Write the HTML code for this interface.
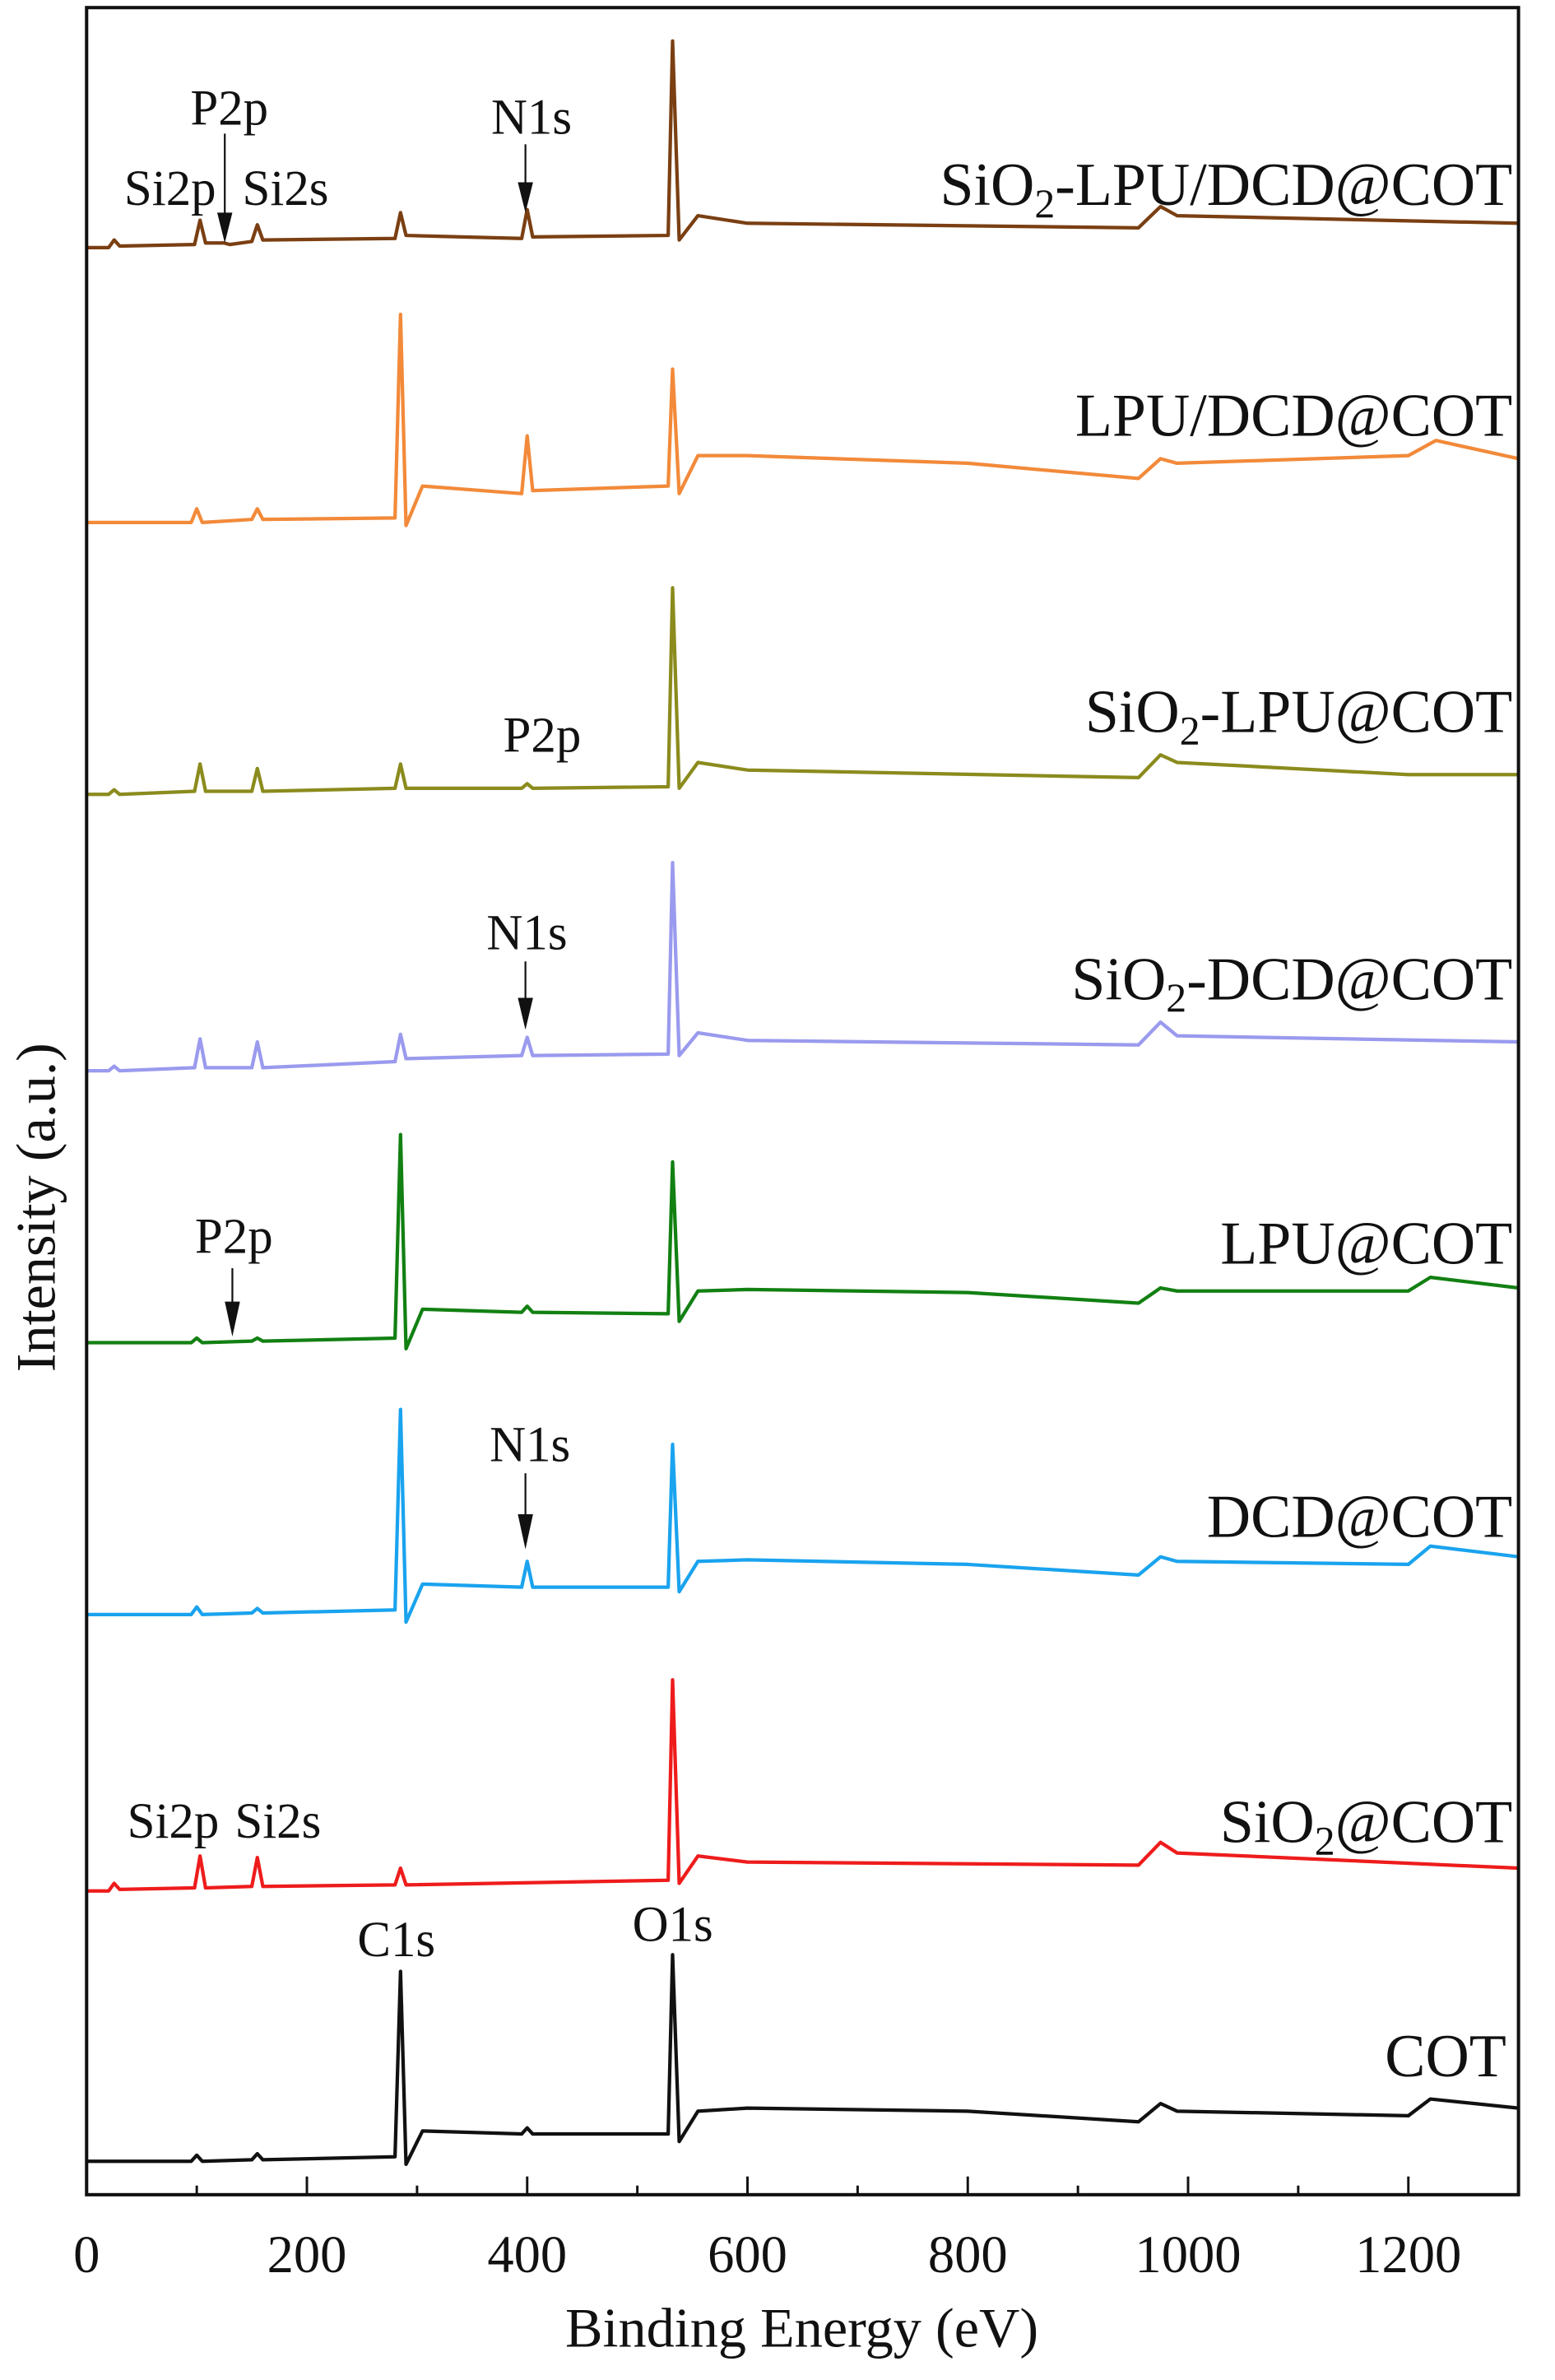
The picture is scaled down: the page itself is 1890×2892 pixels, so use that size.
<!DOCTYPE html>
<html><head><meta charset="utf-8"><style>
html,body{margin:0;padding:0;background:#fff}
svg{display:block}
text{font-family:"Liberation Serif",serif;fill:#111}
</style></head><body>
<svg id="chart" width="1890" height="2892" viewBox="0 0 1024 1567" xmlns="http://www.w3.org/2000/svg">
<rect x="0" y="0" width="1024" height="1567" fill="#fff"/>
<g id="series"></g>
<rect x="57" y="5" width="943" height="1440" fill="none" stroke="#111" stroke-width="2.2"/>
<g id="ticks"></g>
<g id="ticklabels" font-size="35" text-anchor="middle"></g>
<text x="528" y="1545" font-size="37" text-anchor="middle">Binding Energy (eV)</text>
<text transform="translate(36,795) rotate(-90)" font-size="37" text-anchor="middle">Intensity (a.u.)</text>

<g font-size="40" text-anchor="end">
<text x="996" y="135">SiO<tspan font-size="27" dy="8">2</tspan><tspan dy="-8">-LPU/DCD@COT</tspan></text>
<text x="996" y="287">LPU/DCD@COT</text>
<text x="996" y="482">SiO<tspan font-size="27" dy="8">2</tspan><tspan dy="-8">-LPU@COT</tspan></text>
<text x="996" y="658">SiO<tspan font-size="27" dy="8">2</tspan><tspan dy="-8">-DCD@COT</tspan></text>
<text x="996" y="832">LPU@COT</text>
<text x="996" y="1012">DCD@COT</text>
<text x="996" y="1213">SiO<tspan font-size="27" dy="8">2</tspan><tspan dy="-8">@COT</tspan></text>
<text x="992" y="1367">COT</text>
</g>

<g font-size="33" text-anchor="middle">
<text x="112" y="135">Si2p</text>
<text x="151" y="82">P2p</text>
<text x="188" y="135">Si2s</text>
<text x="350" y="88">N1s</text>
<text x="357" y="495">P2p</text>
<text x="347" y="625">N1s</text>
<text x="154" y="825">P2p</text>
<text x="349" y="962">N1s</text>
<text x="114" y="1210">Si2p</text>
<text x="183" y="1210">Si2s</text>
<text x="261" y="1288">C1s</text>
<text x="443" y="1278">O1s</text>
</g>
<g stroke="#111" stroke-width="1.2" fill="#111">
<line x1="148" y1="88" x2="148" y2="145"/><polygon points="143,140 153,140 148,160" stroke="none"/>
<line x1="346" y1="95" x2="346" y2="125"/><polygon points="341,120 351,120 346,140" stroke="none"/>
<line x1="346" y1="633" x2="346" y2="662"/><polygon points="341,657 351,657 346,678" stroke="none"/>
<line x1="153" y1="835" x2="153" y2="862"/><polygon points="148,857 158,857 153,880" stroke="none"/>
<line x1="346" y1="970" x2="346" y2="1002"/><polygon points="341,997 351,997 346,1020" stroke="none"/>
</g>
</svg>
<script>
const xTicks = [0,200,400,600,800,1000,1200];
const xMinorTicks = [100,300,500,700,900,1100];
const seriesNames = ["COT","SiO2@COT","DCD@COT","LPU@COT","SiO2-DCD@COT","SiO2-LPU@COT","LPU/DCD@COT","SiO2-LPU/DCD@COT"];
const seriesColors = ["#111111","#ee1c1c","#1aa3ee","#128012","#9a9aee","#8b8b1e","#f28a3a","#7a3f12"];
const seriesOffsets = [22,200,382,561,740,922,1101,1282];
const eCOT = [0,95,100,105,150,155,160,280,285,290,305,395,400,405,528,532,538,555,600,800,955,975,990,1200,1220,1300];
const vCOT = [0,0,4,0,1,5,1,3,125,-2,20,18,22,18,18,136,13,33,35,33,26,38,33,30,41,35];
const eSiO2 = [0,20,25,30,98,103,108,150,155,160,280,285,290,528,532,538,555,600,955,975,990,1300];
const vSiO2 = [0,0,5,1,2,23,2,3,22,3,4,15,4,7,139,5,23,19,17,32,25,15];
const eDCD = [0,95,100,105,150,155,160,280,285,290,305,395,400,405,528,532,538,555,600,800,955,975,990,1200,1220,1300];
const vDCD = [0,0,5,0,1,4,1,3,135,-5,20,18,35,18,18,112,15,35,36,33,26,38,35,33,45,38];
const eLPU = [0,95,100,105,150,155,160,280,285,290,305,395,400,405,528,532,538,555,600,800,955,975,990,1200,1220,1300];
const vLPU = [0,0,3,0,1,3,1,3,137,-4,22,20,24,20,19,119,14,34,35,33,26,36,34,34,43,36];
const eSiDCD = [0,20,25,30,98,103,108,150,155,160,280,285,290,395,400,405,528,532,538,555,600,955,975,990,1300];
const vSiDCD = [0,0,3,0,2,21,2,2,19,2,6,24,8,10,22,10,11,137,10,25,20,17,32,23,19];
const eSiLPU = [0,20,25,30,98,103,108,150,155,160,280,285,290,395,400,405,528,532,538,555,600,955,975,990,1200,1300];
const vSiLPU = [0,0,3,0,2,20,2,2,17,2,4,20,4,4,7,4,5,136,4,21,16,11,26,21,13,13];
const eLPUDCD = [0,95,100,105,150,155,160,280,285,290,305,395,400,405,528,532,538,555,600,800,955,975,990,1200,1225,1300];
const vLPUDCD = [0,0,9,0,2,9,2,3,137,-2,24,19,57,21,24,101,19,44,44,39,29,42,39,44,54,42];
const eSiLPUDCD = [0,20,25,30,98,103,108,125,130,150,155,160,280,285,290,395,400,405,528,532,538,555,600,955,975,990,1300];
const vSiLPUDCD = [0,0,5,1,2,18,3,3,2,4,15,5,6,23,8,6,25,7,8,136,5,21,16,13,27,21,16];

const allE = [eCOT,eSiO2,eDCD,eLPU,eSiDCD,eSiLPU,eLPUDCD,eSiLPUDCD];
const allV = [vCOT,vSiO2,vDCD,vLPU,vSiDCD,vSiLPU,vLPUDCD,vSiLPUDCD];
const NS = "http://www.w3.org/2000/svg";
function xScale(e){ return 57 + e*(943/1300); }
function yScale(v){ return 1445 - v; }

const sg = document.getElementById('series');
allE.forEach((es,i)=>{
  const pts = es.map((e,j)=>xScale(e).toFixed(2)+','+yScale(allV[i][j]+seriesOffsets[i]).toFixed(2)).join(' ');
  const pl = document.createElementNS(NS,'polyline');
  pl.setAttribute('points',pts);
  pl.setAttribute('fill','none');
  pl.setAttribute('stroke',seriesColors[i]);
  pl.setAttribute('stroke-width','2.3');
  pl.setAttribute('stroke-linejoin','round');
  
  
  sg.appendChild(pl);
});

const tg = document.getElementById('ticks');
const tl = document.getElementById('ticklabels');
xTicks.forEach(t=>{
  const l = document.createElementNS(NS,'line');
  l.setAttribute('x1',xScale(t)); l.setAttribute('x2',xScale(t));
  l.setAttribute('y1',1445); l.setAttribute('y2',1433);
  l.setAttribute('stroke','#111'); l.setAttribute('stroke-width','1.6');
  
  
  tg.appendChild(l);
  const tx = document.createElementNS(NS,'text');
  tx.setAttribute('x',xScale(t)); tx.setAttribute('y',1496);
  tx.textContent = t;
  
  
  tl.appendChild(tx);
});
xMinorTicks.forEach(t=>{
  const l = document.createElementNS(NS,'line');
  l.setAttribute('x1',xScale(t)); l.setAttribute('x2',xScale(t));
  l.setAttribute('y1',1445); l.setAttribute('y2',1439);
  l.setAttribute('stroke','#111'); l.setAttribute('stroke-width','1.6');
  
  
  tg.appendChild(l);
});
</script>
</body></html>
